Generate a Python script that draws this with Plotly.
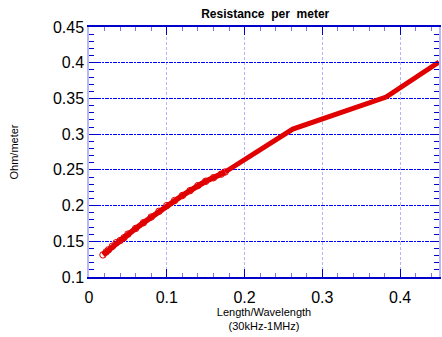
import plotly.graph_objects as go

# dense measured region (with markers)
x_dense = [0.018, 0.022, 0.025, 0.03, 0.035, 0.04, 0.045, 0.05, 0.06, 0.07, 0.08,
           0.09, 0.10, 0.11, 0.12, 0.13, 0.14, 0.15, 0.16, 0.17, 0.175]
y_dense = [0.131, 0.135, 0.138, 0.143, 0.148, 0.151, 0.155, 0.160, 0.168, 0.176, 0.184,
           0.192, 0.200, 0.207, 0.214, 0.221, 0.228, 0.234, 0.239, 0.244, 0.247]
# sparse upper region
x_sparse = [0.175, 0.262, 0.382, 0.45]
y_sparse = [0.247, 0.307, 0.352, 0.401]

x_ticks = [0, 0.1, 0.2, 0.3, 0.4]
x_labels = ["0", "0.1", "0.2", "0.3", "0.4"]
y_ticks = [0.1, 0.15, 0.2, 0.25, 0.3, 0.35, 0.4, 0.45]
y_labels = ["0.1", "0.15", "0.2", "0.25", "0.3", "0.35", "0.4", "0.45"]

RED = "#e00000"
fig = go.Figure()
fig.add_trace(go.Scatter(x=x_dense, y=y_dense, mode="markers",
                         marker=dict(symbol="circle-open", size=6.5, color=RED, line=dict(width=1)),
                         showlegend=False))
fig.add_trace(go.Scatter(x=x_dense, y=y_dense, mode="lines",
                         line=dict(color=RED, width=5.5), showlegend=False))
fig.add_trace(go.Scatter(x=x_sparse, y=y_sparse, mode="lines",
                         line=dict(color=RED, width=5), showlegend=False))

FONT = "Liberation Sans, Arial, sans-serif"
fig.update_layout(
    width=442, height=337,
    margin=dict(l=89, r=1, t=27, b=60),
    plot_bgcolor="white", paper_bgcolor="white",
    font=dict(family=FONT, color="black"),
    title=dict(text="<b>Resistance\u00a0\u00a0per\u00a0\u00a0meter</b>", x=0.6, xanchor="center",
               y=1 - 14/337, yanchor="middle", font=dict(size=12, family=FONT)),
    xaxis=dict(range=[0, 0.45], tickvals=x_ticks, ticktext=x_labels,
               tickfont=dict(size=16), ticks="inside", ticklen=8, tickcolor="#0000cc",
               ticklabelstandoff=5,
               showline=True, linecolor="#0000cc", linewidth=1.5, mirror="allticks",
               showgrid=True, gridcolor="#b4b4ff", griddash="3px,2px", gridwidth=1,
               zeroline=False,
               minor=dict(dtick=0.02, tick0=0, ticks="inside", ticklen=4, tickcolor="#7777ee"),
               title=dict(text="Length/Wavelength<br>(30kHz-1MHz)", font=dict(size=11), standoff=2)),
    yaxis=dict(range=[0.1, 0.45], tickvals=y_ticks, ticktext=y_labels,
               tickfont=dict(size=16), ticks="inside", ticklen=8, tickcolor="#0000cc",
               showline=True, linecolor="#b8b8f8", linewidth=1.5, mirror="allticks",
               showgrid=True, gridcolor="#0000ff", griddash="4px,1px,2px,1px", gridwidth=1,
               zeroline=False,
               minor=dict(dtick=0.01, tick0=0.1, ticks="inside", ticklen=5, tickcolor="#0000cc"),
               title=dict(text="Ohm/meter", font=dict(size=11), standoff=32)),
)
fig.write_html("out.html")
